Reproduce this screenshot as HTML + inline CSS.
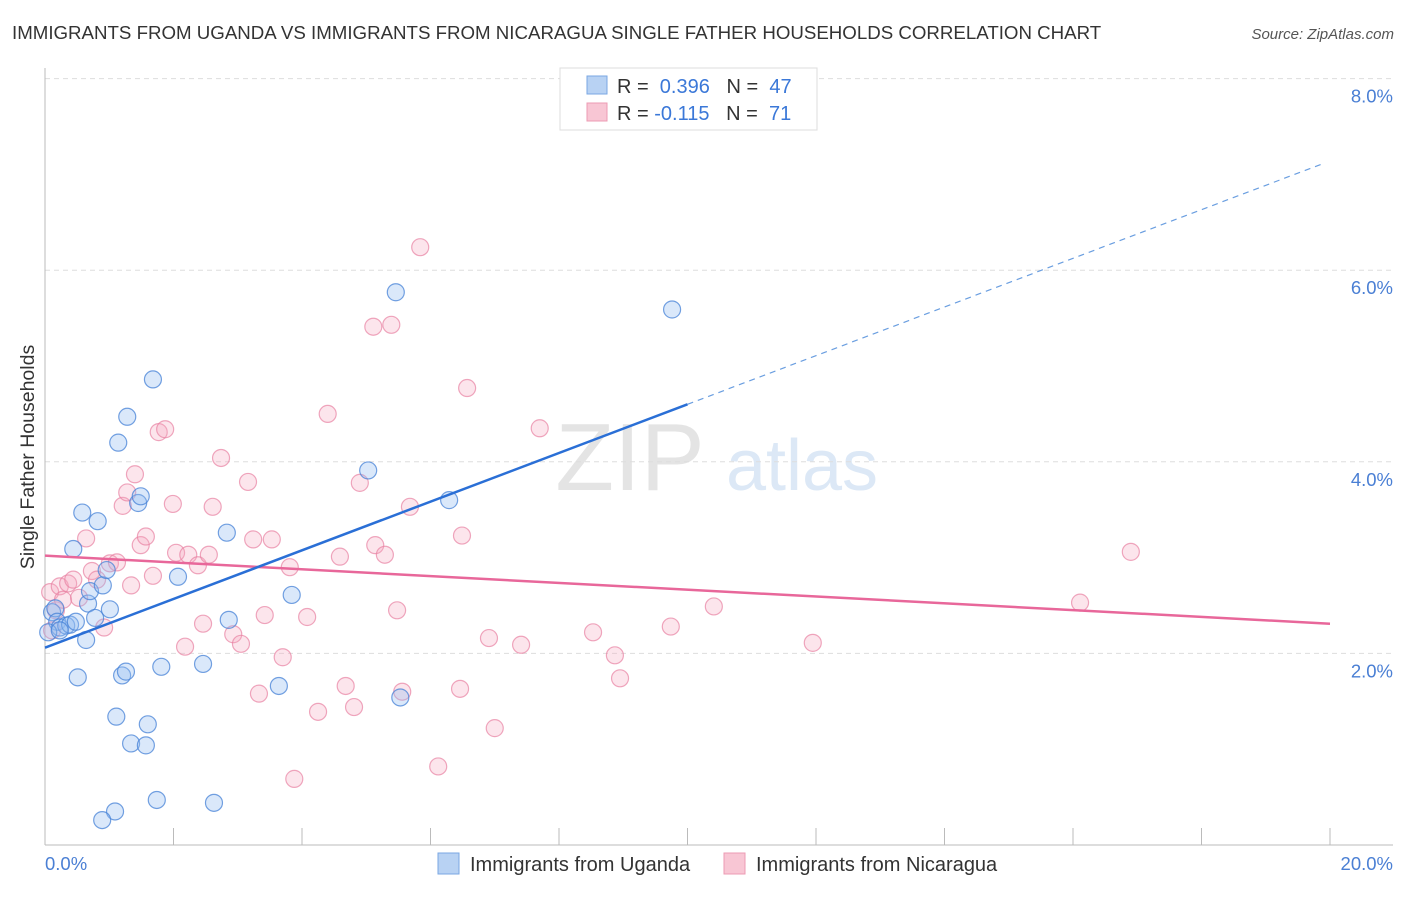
<!DOCTYPE html>
<html><head><meta charset="utf-8"><style>
body{margin:0;background:#fff;font-family:"Liberation Sans",sans-serif;}
svg text{font-family:"Liberation Sans",sans-serif;}
</style></head><body>
<svg id="chart" width="1406" height="892" xmlns="http://www.w3.org/2000/svg">
<text x="12" y="39" font-size="18.7" fill="#333">IMMIGRANTS FROM UGANDA VS IMMIGRANTS FROM NICARAGUA SINGLE FATHER HOUSEHOLDS CORRELATION CHART</text>
<text x="1394" y="39" font-size="15" fill="#555" text-anchor="end" font-style="italic">Source: ZipAtlas.com</text>
<text transform="translate(34,457) rotate(-90)" font-size="19.5" fill="#333" text-anchor="middle">Single Father Households</text>
<g>
<text x="630" y="490" font-size="96" fill="#e4e4e4" font-family="Liberation Serif" text-anchor="middle">ZIP</text>
<text x="802" y="490" font-size="72" fill="#dce8f6" text-anchor="middle">atlas</text>
</g>
<g id="grid"></g>
<g id="axes"></g>
<g id="marks"></g>
<g>
<rect x="560" y="68" width="257" height="62" fill="#fff" stroke="#ddd"/>
<rect x="587" y="76" width="20" height="18" fill="#b8d2f3" stroke="#7aa7e3"/>
<rect x="587" y="103" width="20" height="18" fill="#f8c6d4" stroke="#ec9bb3"/>
<text x="617" y="93" font-size="20" fill="#333">R = <tspan fill="#3b78d8">&#160;0.396</tspan>&#160;&#160;&#160;N = <tspan fill="#3b78d8">&#160;47</tspan></text>
<text x="617" y="120" font-size="20" fill="#333">R = <tspan fill="#3b78d8">-0.115</tspan>&#160;&#160;&#160;N = <tspan fill="#3b78d8">&#160;71</tspan></text>
</g>
<g>
<rect x="438" y="853" width="21" height="21" fill="#b8d2f3" stroke="#7aa7e3"/>
<text x="470" y="871" font-size="20" fill="#333">Immigrants from Uganda</text>
<rect x="724" y="853" width="21" height="21" fill="#f8c6d4" stroke="#ec9bb3"/>
<text x="756" y="871" font-size="20" fill="#333">Immigrants from Nicaragua</text>
</g>
</svg>
<script>
const yTicks=[2,4,6,8];
const xTickLabels=["0.0%","20.0%"];
const ugandaX=[0.11,0.16,0.19,0.23,0.33,0.39,0.44,0.48,0.51,0.58,0.64,0.67,0.70,0.78,0.82,0.90,0.96,1.01,1.11,1.14,1.20,1.26,1.28,1.34,1.45,1.49,1.57,1.60,1.68,1.74,1.81,2.07,2.46,2.63,2.83,2.86,3.64,3.84,5.03,5.46,5.53,6.29,9.76,1.09,0.89,0.05,0.23];
const ugandaY=[2.43,2.47,2.33,2.27,2.29,2.30,3.09,2.33,1.75,3.47,2.14,2.52,2.65,2.37,3.38,2.71,2.87,2.46,1.34,4.20,1.77,1.81,4.47,1.06,3.57,3.64,1.04,1.26,4.86,0.47,1.86,2.80,1.89,0.44,3.26,2.35,1.66,2.61,3.91,5.77,1.54,3.60,5.59,0.35,0.26,2.22,2.24];
const nicX=[0.08,0.11,0.17,0.23,0.28,0.36,0.44,0.53,0.64,0.73,0.81,0.92,1.01,1.12,1.21,1.28,1.34,1.40,1.49,1.57,1.68,1.77,1.87,1.99,2.04,2.18,2.23,2.38,2.46,2.55,2.61,2.74,2.93,3.05,3.16,3.24,3.33,3.42,3.53,3.70,3.81,3.88,4.08,4.25,4.40,4.59,4.68,4.81,4.90,5.11,5.14,5.29,5.39,5.48,5.56,5.68,5.84,6.12,6.46,6.49,6.57,6.91,7.00,7.41,7.70,8.53,8.87,8.95,9.74,10.41,11.95,16.11,16.90];
const nicY=[2.64,2.24,2.45,2.70,2.56,2.73,2.77,2.58,3.20,2.86,2.77,2.27,2.94,2.95,3.54,3.68,2.71,3.87,3.13,3.22,2.81,4.31,4.34,3.56,3.05,2.07,3.03,2.92,2.31,3.03,3.53,4.04,2.20,2.10,3.79,3.19,1.58,2.40,3.19,1.96,2.90,0.69,2.38,1.39,4.50,3.01,1.66,1.44,3.78,5.41,3.13,3.03,5.43,2.45,1.60,3.53,6.24,0.82,1.63,3.23,4.77,2.16,1.22,2.09,4.35,2.22,1.98,1.74,2.28,2.49,2.11,2.53,3.06];
const ugandaTrend=[2.06,4.60,7.14];
const nicTrend=[3.02,2.31];

const NS="http://www.w3.org/2000/svg";
const X0=45,X1=1330,Y0=845,PXY=95.8;
const sx=v=>X0+(X1-X0)*v/20;
const sy=v=>Y0-v*PXY;
function mk(tag,attrs,parent){const e=document.createElementNS(NS,tag);for(const k in attrs)e.setAttribute(k,attrs[k]);parent.appendChild(e);return e;}
const grid=document.getElementById('grid'),axes=document.getElementById('axes'),marks=document.getElementById('marks');
yTicks.forEach(t=>{
 const l=mk('line',{x1:45,x2:1393,y1:sy(t),y2:sy(t),stroke:'#ddd','stroke-dasharray':'5,4'},grid);
 
 
 const tx=mk('text',{x:1393,y:sy(t)+24,'font-size':18.5,fill:'#4a7fd4','text-anchor':'end'},axes);
 tx.textContent=t.toFixed(1)+'%';
 
 
});
let a=mk('line',{x1:45,x2:45,y1:68,y2:845,stroke:'#bbb'},axes);


a=mk('line',{x1:45,x2:1393,y1:845,y2:845,stroke:'#bbb'},axes);


for(let i=1;i<=10;i++){
 const t=mk('line',{x1:sx(i*2),x2:sx(i*2),y1:828,y2:845,stroke:'#bbb'},axes);
 
 
}
let xl=mk('text',{x:45,y:870,'font-size':18.5,fill:'#4a7fd4'},axes);xl.textContent=xTickLabels[0];


xl=mk('text',{x:1393,y:870,'font-size':18.5,fill:'#4a7fd4','text-anchor':'end'},axes);xl.textContent=xTickLabels[1];


nicX.forEach((v,i)=>{
 const c=mk('circle',{cx:sx(v),cy:sy(nicY[i]),r:8.5,fill:'rgba(244,170,192,0.3)',stroke:'rgba(232,130,162,0.7)','stroke-width':1.2},marks);
 
 
});
ugandaX.forEach((v,i)=>{
 const c=mk('circle',{cx:sx(v),cy:sy(ugandaY[i]),r:8.5,fill:'rgba(150,190,240,0.35)',stroke:'rgba(70,130,215,0.75)','stroke-width':1.2},marks);
 
 
});
let ln=mk('line',{x1:sx(0),y1:sy(nicTrend[0]),x2:sx(20),y2:sy(nicTrend[1]),stroke:'#e8679a','stroke-width':2.5},marks);


ln=mk('line',{x1:sx(0),y1:sy(ugandaTrend[0]),x2:sx(10),y2:sy(ugandaTrend[1]),stroke:'#2a6fd6','stroke-width':2.5},marks);


ln=mk('line',{x1:sx(10),y1:sy(ugandaTrend[1]),x2:sx(19.92),y2:sy(ugandaTrend[1]+(ugandaTrend[2]-ugandaTrend[1])*0.992),stroke:'#6a9ee0','stroke-width':1.2,'stroke-dasharray':'6,5'},marks);


</script>
</body></html>
